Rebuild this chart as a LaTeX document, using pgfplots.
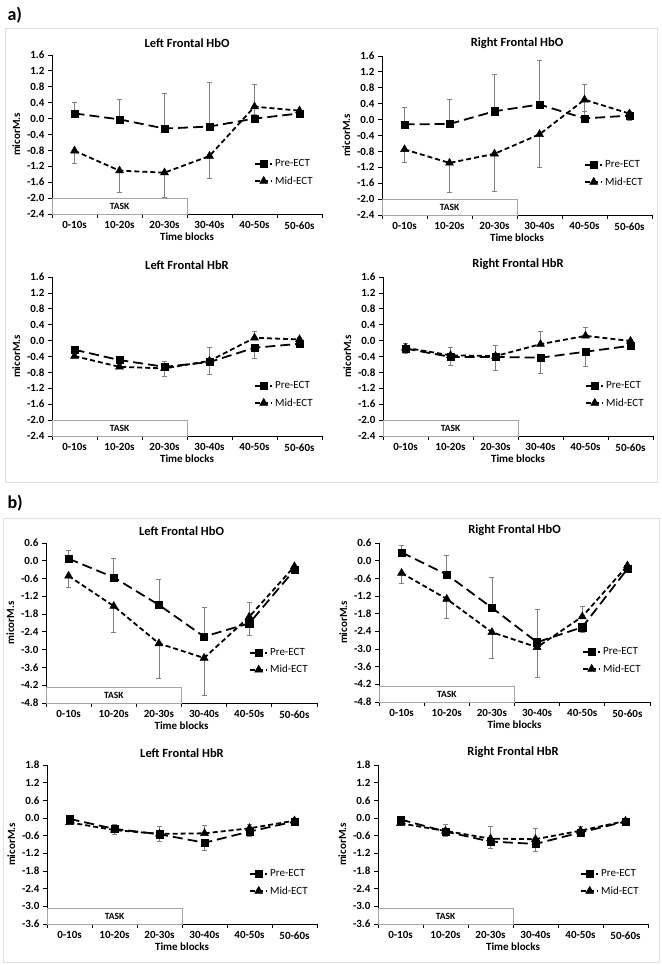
\documentclass[border=0pt]{standalone}
\usepackage{fontspec}
\setmainfont{Carlito}
\usepackage{pgfplots}
\pgfplotsset{compat=1.18}

\pgfplotsset{
  panel/.style={
    scale only axis, width=270pt, height=159pt,
    anchor=south west,
    xmin=0, xmax=6,
    axis lines*=left,
    axis line style={black, line width=0.8pt},
    tick align=outside,
    xtick={0.5,1.5,2.5,3.5,4.5,5.5},
    xticklabels={0-10s,10-20s,20-30s,30-40s,40-50s,50-60s},
    minor xtick={0,1,2,3,4,5,6},
    major x tick style={draw=none},
    minor x tick style={black, line width=0.8pt},
    minor tick length=4pt,
    major tick length=4pt,
    y tick style={black, line width=0.8pt},
    tick label style={font=\bfseries\fontsize{11}{12}\selectfont},
    /pgf/number format/fixed,
    /pgf/number format/fixed zerofill,
    /pgf/number format/precision=1,
    /pgf/number format/assume math mode=true,
    xlabel={Time blocks}, ylabel={micorM.s},
    label style={font=\bfseries\fontsize{11}{12}\selectfont},
    xlabel style={yshift=3pt},
    title style={font=\bfseries\fontsize{12.5}{14}\selectfont, yshift=-2pt},
    legend style={draw=none, fill=none, at={(0.985,0.26)}, anchor=east,
      font=\fontsize{11}{12}\selectfont, row sep=4pt},
    legend cell align=left,
    clip=false,
  },
  pre/.style={black, line width=1.8pt, dash pattern=on 10pt off 5pt,
    mark=square*, mark size=3.6pt, mark options={solid, line width=0.5pt},
    error bars/.cd, y dir=both, y explicit,
    error bar style={solid, line width=0.6pt, gray},
    error mark options={solid, gray, line width=0.6pt, mark size=2.5pt, rotate=90}},
  mid/.style={black, line width=1.8pt, dash pattern=on 5pt off 3pt,
    mark=triangle*, mark size=4.6pt, mark options={solid, line width=0.5pt},
    error bars/.cd, y dir=both, y explicit,
    error bar style={solid, line width=0.6pt, gray},
    error mark options={solid, gray, line width=0.6pt, mark size=2.5pt, rotate=90}},
}

\newcommand{\taskbox}[2]{%
  \draw[gray!70, line width=0.8pt, fill=white] (axis cs:0,#1) rectangle (axis cs:3,#2);
  \node[font=\bfseries\fontsize{9.5}{10}\selectfont] at (axis cs:1.5,{(#1+#2)/2}) {TASK};
}

\begin{document}
\begin{tikzpicture}
\path[use as bounding box] (0,0) rectangle (661pt,-965pt);
\draw[gray!25, line width=0.8pt] (5pt,-28pt) rectangle (657pt,-482pt);
\draw[gray!25, line width=0.8pt] (3pt,-518pt) rectangle (659pt,-962pt);
\node[font=\bfseries\fontsize{18}{20}\selectfont, anchor=west] at (4pt,-15pt) {a)};
\node[font=\bfseries\fontsize{18}{20}\selectfont, anchor=west] at (4pt,-503pt) {b)};

% ---------- a) Left Frontal HbO
\begin{axis}[panel, at={(52pt,-214pt)}, title={Left Frontal HbO},
  ymin=-2.4, ymax=1.6, ytick={-2.4,-2,-1.6,-1.2,-0.8,-0.4,0,0.4,0.8,1.2,1.6}]
\taskbox{-2.4}{-2.0}
\addplot[pre] table[x=x,y=y,y error plus=ep,y error minus=em] {
x y ep em
0.5 0.13 0.29 0
1.5 -0.02 0.51 0
2.5 -0.25 0.88 0
3.5 -0.20 1.12 0
4.5 0.00 0.87 0
5.5 0.13 0.08 0.05
};
\addlegendentry{Pre-ECT}
\addplot[mid] table[x=x,y=y,y error plus=ep,y error minus=em] {
x y ep em
0.5 -0.81 0 0.32
1.5 -1.31 0 0.55
2.5 -1.36 0 0.62
3.5 -0.94 0 0.55
4.5 0.30 0 0.20
5.5 0.20 0 0.08
};
\addlegendentry{Mid-ECT}
\end{axis}

% ---------- a) Right Frontal HbO
\begin{axis}[panel, at={(382pt,-215pt)}, title={Right Frontal HbO},
  ymin=-2.4, ymax=1.6, ytick={-2.4,-2,-1.6,-1.2,-0.8,-0.4,0,0.4,0.8,1.2,1.6}]
\taskbox{-2.4}{-2.0}
\addplot[pre] table[x=x,y=y,y error plus=ep,y error minus=em] {
x y ep em
0.5 -0.12 0.44 0
1.5 -0.11 0.61 0
2.5 0.21 0.92 0
3.5 0.38 1.11 0
4.5 0.03 0.85 0
5.5 0.10 0.12 0
};
\addlegendentry{Pre-ECT}
\addplot[mid] table[x=x,y=y,y error plus=ep,y error minus=em] {
x y ep em
0.5 -0.75 0 0.33
1.5 -1.09 0 0.73
2.5 -0.86 0 0.94
3.5 -0.37 0 0.82
4.5 0.50 0 0.30
5.5 0.15 0 0.17
};
\addlegendentry{Mid-ECT}
\end{axis}

% ---------- a) Left Frontal HbR
\begin{axis}[panel, at={(52pt,-436pt)}, title={Left Frontal HbR},
  ymin=-2.4, ymax=1.6, ytick={-2.4,-2,-1.6,-1.2,-0.8,-0.4,0,0.4,0.8,1.2,1.6}]
\taskbox{-2.4}{-2.0}
\addplot[pre] table[x=x,y=y,y error plus=ep,y error minus=em] {
x y ep em
0.5 -0.23 0 0.08
1.5 -0.49 0 0.10
2.5 -0.66 0 0.25
3.5 -0.54 0 0.31
4.5 -0.18 0 0.27
5.5 -0.08 0 0.05
};
\addlegendentry{Pre-ECT}
\addplot[mid] table[x=x,y=y,y error plus=ep,y error minus=em] {
x y ep em
0.5 -0.39 0.10 0
1.5 -0.66 0.10 0
2.5 -0.70 0.19 0
3.5 -0.51 0.33 0
4.5 0.07 0.16 0
5.5 0.03 0.05 0
};
\addlegendentry{Mid-ECT}
\end{axis}

% ---------- a) Right Frontal HbR
\begin{axis}[panel, at={(383pt,-436pt)}, title={Right Frontal HbR},
  ymin=-2.4, ymax=1.6, ytick={-2.4,-2,-1.6,-1.2,-0.8,-0.4,0,0.4,0.8,1.2,1.6}]
\taskbox{-2.4}{-2.0}
\addplot[pre] table[x=x,y=y,y error plus=ep,y error minus=em] {
x y ep em
0.5 -0.20 0 0.11
1.5 -0.41 0 0.21
2.5 -0.41 0 0.34
3.5 -0.43 0 0.40
4.5 -0.28 0 0.36
5.5 -0.13 0 0.05
};
\addlegendentry{Pre-ECT}
\addplot[mid] table[x=x,y=y,y error plus=ep,y error minus=em] {
x y ep em
0.5 -0.18 0.10 0
1.5 -0.37 0.19 0
2.5 -0.39 0.26 0
3.5 -0.09 0.32 0
4.5 0.12 0.21 0
5.5 -0.01 0.05 0
};
\addlegendentry{Mid-ECT}
\end{axis}

% ---------- b) Left Frontal HbO
\begin{axis}[panel, at={(46pt,-703pt)}, width=271pt, height=160pt, title={Left Frontal HbO},
  ymin=-4.8, ymax=0.6, ytick={-4.8,-4.2,-3.6,-3,-2.4,-1.8,-1.2,-0.6,0,0.6}]
\taskbox{-4.8}{-4.26}
\addplot[pre] table[x=x,y=y,y error plus=ep,y error minus=em] {
x y ep em
0.5 0.07 0.27 0
1.5 -0.56 0.64 0
2.5 -1.49 0.88 0
3.5 -2.56 0.98 0
4.5 -2.11 0 0.42
5.5 -0.31 0.05 0
};
\addlegendentry{Pre-ECT}
\addplot[mid] table[x=x,y=y,y error plus=ep,y error minus=em] {
x y ep em
0.5 -0.51 0 0.38
1.5 -1.53 0 0.87
2.5 -2.79 0 1.19
3.5 -3.28 0 1.26
4.5 -1.89 0.48 0
5.5 -0.19 0 0.05
};
\addlegendentry{Mid-ECT}
\end{axis}

% ---------- b) Right Frontal HbO
\begin{axis}[panel, at={(379pt,-702pt)}, width=271pt, title={Right Frontal HbO},
  ymin=-4.8, ymax=0.6, ytick={-4.8,-4.2,-3.6,-3,-2.4,-1.8,-1.2,-0.6,0,0.6}]
\taskbox{-4.8}{-4.26}
\addplot[pre] table[x=x,y=y,y error plus=ep,y error minus=em] {
x y ep em
0.5 0.28 0.23 0
1.5 -0.47 0.66 0
2.5 -1.60 1.04 0
3.5 -2.77 1.13 0
4.5 -2.26 0 0.17
5.5 -0.28 0.05 0
};
\addlegendentry{Pre-ECT}
\addplot[mid] table[x=x,y=y,y error plus=ep,y error minus=em] {
x y ep em
0.5 -0.42 0 0.35
1.5 -1.30 0 0.65
2.5 -2.43 0 0.88
3.5 -2.94 0 1.01
4.5 -1.90 0.34 0
5.5 -0.17 0 0.05
};
\addlegendentry{Mid-ECT}
\end{axis}

% ---------- b) Left Frontal HbR
\begin{axis}[panel, at={(47pt,-924pt)}, title={Left Frontal HbR},
  ymin=-3.6, ymax=1.8, ytick={-3.6,-3,-2.4,-1.8,-1.2,-0.6,0,0.6,1.2,1.8}]
\taskbox{-3.6}{-3.08}
\addplot[pre] table[x=x,y=y,y error plus=ep,y error minus=em] {
x y ep em
0.5 -0.03 0 0.08
1.5 -0.37 0 0.17
2.5 -0.55 0 0.25
3.5 -0.84 0 0.24
4.5 -0.46 0 0.15
5.5 -0.12 0 0.05
};
\addlegendentry{Pre-ECT}
\addplot[mid] table[x=x,y=y,y error plus=ep,y error minus=em] {
x y ep em
0.5 -0.15 0.06 0
1.5 -0.41 0.21 0
2.5 -0.54 0.27 0
3.5 -0.52 0.26 0
4.5 -0.35 0.14 0
5.5 -0.09 0.05 0
};
\addlegendentry{Mid-ECT}
\end{axis}

% ---------- b) Right Frontal HbR
\begin{axis}[panel, at={(378pt,-924pt)}, title={Right Frontal HbR},
  ymin=-3.6, ymax=1.8, ytick={-3.6,-3,-2.4,-1.8,-1.2,-0.6,0,0.6,1.2,1.8}]
\taskbox{-3.6}{-3.08}
\addplot[pre] table[x=x,y=y,y error plus=ep,y error minus=em] {
x y ep em
0.5 -0.05 0 0.08
1.5 -0.46 0 0.15
2.5 -0.80 0 0.23
3.5 -0.88 0 0.26
4.5 -0.49 0 0.12
5.5 -0.12 0 0.04
};
\addlegendentry{Pre-ECT}
\addplot[mid] table[x=x,y=y,y error plus=ep,y error minus=em] {
x y ep em
0.5 -0.18 0.10 0
1.5 -0.44 0.24 0
2.5 -0.70 0.41 0
3.5 -0.72 0.37 0
4.5 -0.43 0.14 0
5.5 -0.10 0.04 0
};
\addlegendentry{Mid-ECT}
\end{axis}
\end{tikzpicture}
\end{document}
